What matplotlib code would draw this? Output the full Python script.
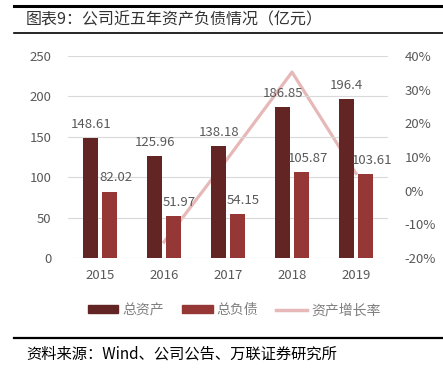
import matplotlib
matplotlib.use("Agg")
import matplotlib.pyplot as plt
from matplotlib.lines import Line2D
import numpy as np

plt.rcParams['font.family'] = ['Noto Sans CJK SC', 'DejaVu Sans']

years = ['2015', '2016', '2017', '2018', '2019']
assets = [148.61, 125.96, 138.18, 186.85, 196.4]
liabilities = [82.02, 51.97, 54.15, 105.87, 103.61]
growth_years = ['2016', '2017', '2018', '2019']
growth = [-15.24, 9.70, 35.22, 5.11]

c_dark = '#632523'
c_light = '#953735'
c_line = '#E6B9B8'
c_text = '#595959'

fig = plt.figure(figsize=(4.43, 3.72), dpi=100)
W, H = 443, 372
ax = fig.add_axes([68 / W, 1 - 258 / H, (388 - 68) / W, (258 - 56) / H])
ax2 = ax.twinx()

x = np.arange(len(years))
bw = 0.23
gap = 0.03
ax.bar(x - bw / 2 - gap, assets, bw, color=c_dark, zorder=3)
ax.bar(x + bw / 2 + gap, liabilities, bw, color=c_light, zorder=3)
for xi, v in zip(x, assets):
    ax.text(xi - bw / 2 - gap, v + 9, f'{v:g}', ha='center', va='bottom', fontsize=9.5, color=c_text, zorder=5)
for xi, v in zip(x, liabilities):
    ax.text(xi + bw / 2 + gap + 0.1, v + 9, f'{v:g}', ha='center', va='bottom', fontsize=9.5, color=c_text, zorder=5)

gx = [years.index(y) for y in growth_years]
ax2.plot(gx, growth, color=c_line, lw=2.3, zorder=4)

ax.set_xlim(-0.5, 4.5)
ax.set_ylim(0, 250)
ax.set_yticks(range(0, 251, 50))
ax2.set_ylim(-20, 40)
ax2.set_yticks(range(-20, 41, 10))
ax2.set_yticklabels([f'{t}%' for t in range(-20, 41, 10)])
ax.set_xticks(x)
ax.set_xticklabels(years)
ax.grid(axis='y', color='#D9D9D9', lw=0.8, zorder=0)
for a in (ax, ax2):
    for s in a.spines.values():
        s.set_visible(False)
    a.tick_params(length=0, labelsize=9.5, colors=c_text)
ax.tick_params(axis='y', pad=12)
ax.tick_params(axis='x', pad=8)
ax2.tick_params(axis='y', pad=12)
ax.set_zorder(ax2.get_zorder() + 1)
ax.patch.set_visible(False)

# title and rules
fig.text(26 / W, 1 - 20 / H, '图表9：公司近五年资产负债情况（亿元）', fontsize=11.5, va='center', ha='left', color='#333333')
fig.add_artist(Line2D([14 / W, 1], [1 - 6 / H, 1 - 6 / H], color='black', lw=2.2))
fig.add_artist(Line2D([14 / W, 1], [1 - 33 / H, 1 - 33 / H], color='black', lw=1.2))
fig.add_artist(Line2D([14 / W, 1], [1 - 338 / H, 1 - 338 / H], color='black', lw=1.6))
fig.text(26 / W, 1 - 354 / H, '资料来源：Wind、公司公告、万联证券研究所', fontsize=11, va='center', ha='left',
         style='italic', color='black')

handles = [plt.Rectangle((0, 0), 1, 1, color=c_dark), plt.Rectangle((0, 0), 1, 1, color=c_light),
           Line2D([0], [0], color=c_line, lw=2.5)]
fig.legend(handles, ['总资产', '总负债', '资产增长率'], loc='center', bbox_to_anchor=(234 / W, 1 - 310 / H),
           ncol=3, frameon=False, fontsize=10, labelcolor='#7F7F7F', handlelength=2.2, handleheight=0.5,
           columnspacing=1.3, handletextpad=0.3)

fig.savefig('out.png', dpi=100)
